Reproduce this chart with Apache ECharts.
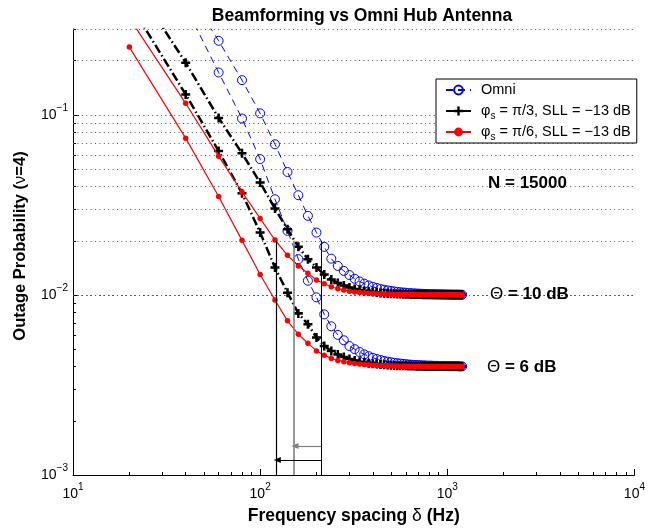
<!DOCTYPE html>
<html>
<head>
<meta charset="utf-8">
<script src="https://cdn.jsdelivr.net/npm/echarts@6/dist/echarts.min.js"></script>
<style>
  html, body { margin: 0; padding: 0; background: #fff; }
  #chart { width: 648px; height: 531px; }
</style>
</head>
<body>
<div id="chart"></div>
<script>
const FONT = '"Liberation Sans", Arial, Helvetica, sans-serif';

// Frequency spacing δ (Hz) of each evaluated point
const freqHz = [
  20, 40, 60, 80, 100, 120, 140, 160, 180, 200,
  220, 240, 260, 280, 300, 320, 340, 360, 380, 400,
  420, 440, 460, 480, 500, 520, 540, 560, 580, 600,
  620, 640, 660, 680, 700, 720, 740, 760, 780, 800,
  820, 840, 860, 880, 900, 920, 940, 960, 980, 1000,
  1020, 1040, 1060, 1080, 1100, 1120, 1140, 1160, 1180, 1200
];

// Outage probability, threshold Θ = 10 dB
const omni10 = [
  0.98, 0.50, 0.258, 0.156, 0.102, 0.0687, 0.0482, 0.0358, 0.0275, 0.0222,
  0.0185, 0.0159, 0.0145, 0.0136, 0.0129, 0.0123, 0.01188, 0.01156, 0.0113, 0.0111,
  0.01094, 0.0108, 0.01069, 0.0106, 0.01053, 0.01046, 0.01041, 0.01036, 0.01032, 0.01029,
  0.01026, 0.01023, 0.01021, 0.01019, 0.01017, 0.01016, 0.01015, 0.01013, 0.01012, 0.01011,
  0.0101, 0.0101, 0.01009, 0.01008, 0.01008, 0.01007, 0.01007, 0.01006, 0.01006, 0.01005,
  0.01005, 0.01005, 0.01004, 0.01004, 0.01004, 0.01004, 0.01004, 0.01003, 0.01003, 0.01003
];
const beamPi3_10 = [
  0.59, 0.195, 0.0962, 0.0612, 0.0421, 0.0302, 0.0232, 0.0185, 0.0158, 0.0142,
  0.0130, 0.0122, 0.01166, 0.01128, 0.01101, 0.0108, 0.01065, 0.01053, 0.01044, 0.01037,
  0.01031, 0.01026, 0.01023, 0.01019, 0.01017, 0.01015, 0.01013, 0.01011, 0.0101, 0.01009,
  0.01008, 0.01007, 0.01006, 0.01006, 0.01005, 0.01005, 0.01004, 0.01004, 0.01004, 0.01003,
  0.01003, 0.01003, 0.01003, 0.01002, 0.01002, 0.01002, 0.01002, 0.01002, 0.01002, 0.01002,
  0.01001, 0.01001, 0.01001, 0.01001, 0.01001, 0.01001, 0.01001, 0.01001, 0.01001, 0.01001
];
const beamPi6_10 = [
  0.345, 0.116, 0.059, 0.0373, 0.0266, 0.0202, 0.0166, 0.0145, 0.0132, 0.0121,
  0.01155, 0.0111, 0.01083, 0.01064, 0.0105, 0.0104, 0.01033, 0.01027, 0.01022, 0.01018,
  0.01016, 0.01013, 0.01011, 0.0101, 0.01008, 0.01007, 0.01006, 0.01006, 0.01005, 0.01004,
  0.01004, 0.01004, 0.01003, 0.01003, 0.01003, 0.01002, 0.01002, 0.01002, 0.01002, 0.01002,
  0.01001, 0.01001, 0.01001, 0.01001, 0.01001, 0.01001, 0.01001, 0.01001, 0.01001, 0.01001,
  0.01001, 0.01001, 0.01001, 0.01001, 0.01001, 0.01, 0.01, 0.01, 0.01, 0.01
];

// Outage probability, threshold Θ = 6 dB
const omni6 = [
  0.95, 0.40, 0.172, 0.0955, 0.0568, 0.0340, 0.0227, 0.0158, 0.0120, 0.0097,
  0.0078, 0.0067, 0.0060, 0.0056, 0.0052, 0.0050, 0.00482, 0.00468, 0.00457, 0.00448,
  0.00441, 0.00435, 0.0043, 0.00426, 0.00423, 0.0042, 0.00418, 0.00416, 0.00414, 0.00413,
  0.00411, 0.0041, 0.00409, 0.00408, 0.00408, 0.00407, 0.00406, 0.00406, 0.00405, 0.00405,
  0.00405, 0.00404, 0.00404, 0.00404, 0.00403, 0.00403, 0.00403, 0.00403, 0.00403, 0.00402,
  0.00402, 0.00402, 0.00402, 0.00402, 0.00402, 0.00402, 0.00402, 0.00401, 0.00401, 0.00401
];
const beamPi3_6 = [
  0.42, 0.130, 0.063, 0.0367, 0.0222, 0.0142, 0.0103, 0.0079, 0.00687, 0.0058,
  0.00521, 0.00489, 0.00467, 0.00452, 0.00441, 0.00433, 0.00426, 0.00422, 0.00418, 0.00415,
  0.00413, 0.00411, 0.00409, 0.00408, 0.00407, 0.00406, 0.00405, 0.00405, 0.00404, 0.00404,
  0.00403, 0.00403, 0.00403, 0.00402, 0.00402, 0.00402, 0.00402, 0.00402, 0.00401, 0.00401,
  0.00401, 0.00401, 0.00401, 0.00401, 0.00401, 0.00401, 0.00401, 0.00401, 0.00401, 0.00401,
  0.004, 0.004, 0.004, 0.004, 0.004, 0.004, 0.004, 0.004, 0.004, 0.004
];
const beamPi6_6 = [
  0.238, 0.0743, 0.0352, 0.0201, 0.0130, 0.00938, 0.00718, 0.00605, 0.0054, 0.00489,
  0.00463, 0.00444, 0.00433, 0.00426, 0.0042, 0.00416, 0.00413, 0.00411, 0.00409, 0.00407,
  0.00406, 0.00405, 0.00405, 0.00404, 0.00403, 0.00403, 0.00403, 0.00402, 0.00402, 0.00402,
  0.00402, 0.00401, 0.00401, 0.00401, 0.00401, 0.00401, 0.00401, 0.00401, 0.00401, 0.00401,
  0.004, 0.004, 0.004, 0.004, 0.004, 0.004, 0.004, 0.004, 0.004, 0.004,
  0.004, 0.004, 0.004, 0.004, 0.004, 0.004, 0.004, 0.004, 0.004, 0.004
];

const seriesNames = ['Omni', 'φs = π/3, SLL = −13 dB', 'φs = π/6, SLL = −13 dB'];

// Axis ticks
const xMajorTicks = [10, 100, 1000, 10000];
const xMinorTicks = [20, 30, 40, 50, 60, 70, 80, 90, 200, 300, 400, 500, 600, 700, 800, 900,
                     2000, 3000, 4000, 5000, 6000, 7000, 8000, 9000];
const yMajorTicks = [0.001, 0.01, 0.1];
const yMinorTicks = [0.002, 0.003, 0.004, 0.005, 0.006, 0.007, 0.008, 0.009,
                     0.02, 0.03, 0.04, 0.05, 0.06, 0.07, 0.08, 0.09, 0.2, 0.3];
const yGridValues = [0.002, 0.003, 0.004, 0.005, 0.006, 0.007, 0.008, 0.009, 0.01,
                     0.02, 0.03, 0.04, 0.05, 0.06, 0.07, 0.08, 0.09, 0.1, 0.2, 0.3];

// Frequencies (Hz) where each 10 dB curve reaches twice its floor, and the arrow heights
const crossFreqPi6 = 121.5;
const crossFreqPi3 = 151.5;
const crossFreqOmni = 212;
const crossLevel = 0.02;
const axisFloor = 0.001;
const arrowLevels = [0.00145, 0.00121];

const PLUS = 'path://M3.6,0H6.4V3.6H10V6.4H6.4V10H3.6V6.4H0V3.6H3.6Z';

const pairs = ys => freqHz.map((f, i) => [f, ys[i]]);

function powLabel(v) {
  const e = Math.round(Math.log10(v));
  return '{b|10}{e|' + (e < 0 ? '−' + (-e) : String(e)) + '}';
}
const tickRich = {
  b: { fontFamily: FONT, fontSize: 14, color: '#000', lineHeight: 24 },
  e: { fontFamily: FONT, fontSize: 10, color: '#000', lineHeight: 8, verticalAlign: 'top' }
};

function legendText(name) {
  if (name.charAt(0) === 'φ') {
    return 'φ{s|s}' + name.slice(2);
  }
  return name;
}

const omniStyle = {
  type: 'line', name: seriesNames[0], symbol: 'circle', symbolSize: 9,
  itemStyle: { color: 'rgba(255,255,255,0)', borderColor: '#0000ff', borderWidth: 1 },
  lineStyle: { color: '#0000ff', width: 1, type: [7, 5] },
  emphasis: { disabled: true }, z: 3
};
const pi3Style = {
  type: 'line', name: seriesNames[1], symbol: PLUS, symbolSize: 9,
  itemStyle: { color: '#000' },
  lineStyle: { color: '#000', width: 2.5, type: [9, 3, 1.5, 3] },
  emphasis: { disabled: true }, z: 4
};
const pi6Style = {
  type: 'line', name: seriesNames[2], symbol: 'circle', symbolSize: 5.5,
  itemStyle: { color: '#ff0000' },
  lineStyle: { color: '#ff0000', width: 1.2 },
  emphasis: { disabled: true }, z: 5
};

const vLine = (f, color, width) => [
  { coord: [f, crossLevel], symbol: 'none', lineStyle: { color: color, width: width, type: 'solid' } },
  { coord: [f, axisFloor], symbol: 'none' }
];
const arrow = (fromF, toF, level, color) => [
  { coord: [fromF, level], symbol: 'none', lineStyle: { color: color, width: 1.2, type: 'solid' } },
  { coord: [toF, level], symbol: 'triangle', symbolSize: [6, 7] }
];

const option = {
  animation: false,
  backgroundColor: '#fff',
  title: {
    text: 'Beamforming vs Omni Hub Antenna',
    left: 357, top: 2, textAlign: 'center',
    textStyle: { fontFamily: FONT, fontSize: 17.5, fontWeight: 'bold', color: '#000' }
  },
  grid: { left: 73, top: 29, width: 567, height: 446 },
  legend: {
    data: seriesNames,
    orient: 'vertical', left: 436, top: 79,
    itemWidth: 25, itemHeight: 11, itemGap: 1,
    padding: [1, 6, 1, 9],
    borderColor: '#000', borderWidth: 1, borderRadius: 0, backgroundColor: '#fff',
    selectedMode: false,
    formatter: legendText,
    textStyle: {
      fontFamily: FONT, fontSize: 14.5, color: '#000', lineHeight: 20, padding: [0, 0, 0, 5],
      rich: {
        s: { fontFamily: FONT, fontSize: 10, color: '#000', lineHeight: 10, verticalAlign: 'bottom' }
      }
    }
  },
  xAxis: [
    {
      type: 'log', logBase: 10, min: 10, max: 10000, position: 'bottom',
      name: 'Frequency spacing {r|δ} (Hz)', nameLocation: 'middle', nameGap: 32,
      nameTextStyle: {
        fontFamily: FONT, fontSize: 17.5, fontWeight: 'bold', color: '#000',
        rich: { r: { fontFamily: FONT, fontSize: 17.5, fontWeight: 'normal', color: '#000' } }
      },
      axisLine: { lineStyle: { color: '#000', width: 1 } },
      axisTick: { inside: true, length: 6, customValues: xMajorTicks, lineStyle: { color: '#000' } },
      axisLabel: { customValues: xMajorTicks, formatter: powLabel, rich: tickRich, margin: 7,
                   showMinLabel: true, showMaxLabel: true },
      splitLine: { show: false }, minorTick: { show: false }
    },
    {
      type: 'log', logBase: 10, min: 10, max: 10000, position: 'bottom',
      axisLine: { show: false },
      axisTick: { inside: true, length: 3, customValues: xMinorTicks, lineStyle: { color: '#000' } },
      axisLabel: { show: false }, splitLine: { show: false }
    }
  ],
  yAxis: [
    {
      type: 'log', logBase: 10, min: 0.001, max: 0.3, position: 'left',
      name: 'Outage Probability ({r|ν}=4)', nameLocation: 'middle', nameGap: 44,
      nameTextStyle: {
        fontFamily: FONT, fontSize: 16.5, fontWeight: 'bold', color: '#000', padding: [0, 0, 0, 12],
        rich: { r: { fontFamily: FONT, fontSize: 16.5, fontWeight: 'normal', color: '#000' } }
      },
      axisLine: { show: true, lineStyle: { color: '#000', width: 1 } },
      axisTick: { show: true, inside: true, length: 6, customValues: yMajorTicks, lineStyle: { color: '#000' } },
      axisLabel: { customValues: yMajorTicks, formatter: powLabel, rich: tickRich, margin: 5,
                   showMinLabel: true, showMaxLabel: true },
      splitLine: { show: false }
    },
    {
      type: 'log', logBase: 10, min: 0.001, max: 0.3, position: 'left',
      axisLine: { show: false },
      axisTick: { show: true, inside: true, length: 3, customValues: yMinorTicks, lineStyle: { color: '#000' } },
      axisLabel: { show: false }, splitLine: { show: false }
    }
  ],
  graphic: [
    { type: 'text', x: 488, y: 183, z: 10,
      style: { text: 'N = 15000', fontFamily: FONT, fontSize: 17, fontWeight: 'bold', fill: '#000', verticalAlign: 'middle' } },
    { type: 'text', x: 490, y: 294, z: 10,
      style: { text: '{t|Θ} = 10 dB', fontFamily: FONT, fontSize: 17, fontWeight: 'bold', fill: '#000', verticalAlign: 'middle',
               rich: { t: { fontFamily: FONT, fontSize: 17, fontWeight: 'normal', fill: '#000' } } } },
    { type: 'text', x: 487, y: 367, z: 10,
      style: { text: '{t|Θ} = 6 dB', fontFamily: FONT, fontSize: 17, fontWeight: 'bold', fill: '#000', verticalAlign: 'middle',
               rich: { t: { fontFamily: FONT, fontSize: 17, fontWeight: 'normal', fill: '#000' } } } }
  ],
  series: [
    {
      // dotted horizontal grid at every decade and sub-decade value
      type: 'line', name: 'grid', data: [], silent: true, z: 1,
      markLine: {
        silent: true, symbol: 'none', z: 1, animation: false,
        label: { show: false },
        lineStyle: { color: '#555', width: 1, type: [1, 3.4] },
        data: yGridValues.map(v => ({ yAxis: v }))
      }
    },
    Object.assign({}, omniStyle, { data: pairs(omni10) }),
    Object.assign({}, omniStyle, { data: pairs(omni6) }),
    Object.assign({}, pi3Style, { data: pairs(beamPi3_10) }),
    Object.assign({}, pi3Style, { data: pairs(beamPi3_6) }),
    Object.assign({}, pi6Style, { data: pairs(beamPi6_10) }),
    Object.assign({}, pi6Style, { data: pairs(beamPi6_6) }),
    {
      // markers for the 2×floor crossing frequencies and the gains between them
      type: 'line', name: 'crossings', data: [], silent: true, z: 6,
      markLine: {
        silent: true, z: 6, animation: false,
        label: { show: false },
        itemStyle: { color: '#000' },
        data: [
          vLine(crossFreqPi6, '#000', 1.2),
          vLine(crossFreqPi3, '#808080', 1.6),
          vLine(crossFreqOmni, '#000', 1),
          arrow(crossFreqOmni, crossFreqPi3 + 2, arrowLevels[0], '#808080'),
          arrow(crossFreqOmni, crossFreqPi6 + 2, arrowLevels[1], '#000')
        ]
      }
    }
  ]
};

const chart = echarts.init(document.getElementById('chart'), null, { renderer: 'canvas' });
chart.setOption(option);
</script>
</body>
</html>
